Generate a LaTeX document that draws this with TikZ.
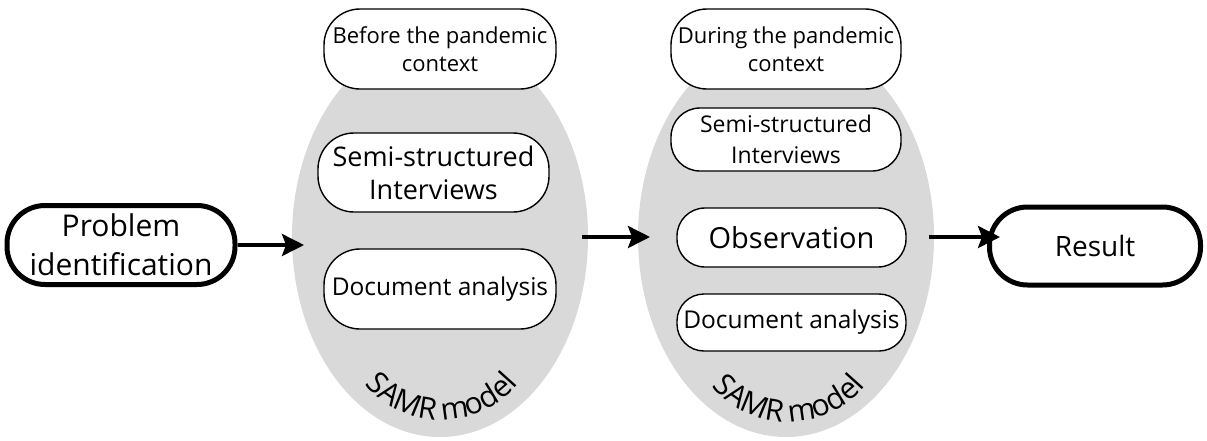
\documentclass[tikz,border=0pt]{standalone}
\usepackage{fontspec}
\setmainfont{Open Sans}
\usetikzlibrary{shapes.geometric,arrows.meta}
\definecolor{samrgray}{RGB}{217,217,217}
\newcommand{\fsz}[2]{\fontsize{#1}{#2}\selectfont}
\newcommand{\samrfont}{\fontsize{30}{35}\selectfont}
% letters of "SAMR model" set along a circle of radius 100 below centre (#1,#2)
\newcommand{\samrarc}[2]{%
  \foreach \ch/\a in {S/-45.5, A/-35.3, M/-22.2, R/-9.2, m/8.0, o/20.6, d/31.0, e/41.1, l/48.0}{%
    \node[samrletter, rotate=\a] at ({#1+100*sin(\a)},{#2+100*cos(\a)}) {\ch};
  }%
}
\tikzset{
  thickbox/.style={draw=black, line width=5pt, rounded corners=38pt, fill=white, inner sep=0pt, align=center},
  thinbox/.style={draw=black, line width=1.4pt, fill=white, inner sep=0pt, align=center},
  samr/.style={ellipse, fill=samrgray, inner sep=0pt, outer sep=0pt, minimum width=296pt, minimum height=400pt},
  samrletter/.style={anchor=base, inner sep=0pt, font=\samrfont},
  flow/.style={line width=3.5pt, -{Stealth[length=22pt,width=22pt,inset=4pt]}},
}
\begin{document}
\begin{tikzpicture}[x=1pt,y=-1pt]
\useasboundingbox (0,0) rectangle (1207,440);
% ellipses
\node[samr] (L) at (440,237) {};
\node[samr] (R) at (786,237) {};
% left group
\node[thinbox, rounded corners=36pt, minimum width=232pt, minimum height=80pt, font=\fsz{22}{28}] (b1) at (440,49) {Before the pandemic\\context};
\node[thinbox, rounded corners=36pt, minimum width=231pt, minimum height=79pt, font=\fsz{27}{33}] (b2) at (433.5,172.5) {Semi-structured\\Interviews};
\node[thinbox, rounded corners=36pt, minimum width=232pt, minimum height=80pt, font=\fsz{24.5}{28}] (b3) at (440,289) {Document analysis};
% right group
\node[thinbox, rounded corners=36pt, minimum width=230pt, minimum height=80pt, font=\fsz{22}{28}] (c1) at (786,49) {During the pandemic\\context};
\node[thinbox, rounded corners=29pt, minimum width=230pt, minimum height=63pt, font=\fsz{23}{31}] (c2) at (786,139.5) {Semi-structured\\Interviews};
\node[thinbox, rounded corners=28pt, minimum width=229pt, minimum height=59pt, font=\fsz{29}{33}] (c3) at (791.5,237.5) {Observation};
\node[thinbox, rounded corners=27pt, minimum width=229pt, minimum height=57pt, font=\fsz{24.5}{28}] (c4) at (791.5,322.5) {Document analysis};
% SAMR labels
\samrarc{442}{320}
\samrarc{789}{322}
% end boxes
\node[thickbox, minimum width=228pt, minimum height=79pt, font=\fsz{30}{39}] (prob) at (121,245) {Problem\\identification};
\node[thickbox, minimum width=211pt, minimum height=78pt, font=\fsz{28}{30}] (res) at (1095,246) {Result};
% connectors
\coordinate (a1) at ([xshift=12pt]L.west);
\coordinate (a2s) at ([xshift=-6pt]L.east);
\coordinate (a2e) at ([xshift=12pt]R.west);
\coordinate (a3s) at ([xshift=-5pt]R.east);
\draw[flow] (prob.east) -- (a1 |- prob.east);
\draw[flow] (a2s) -- (a2e);
\draw[flow] (a3s) -- ([xshift=13pt]res.west |- a3s);
\end{tikzpicture}
\end{document}
